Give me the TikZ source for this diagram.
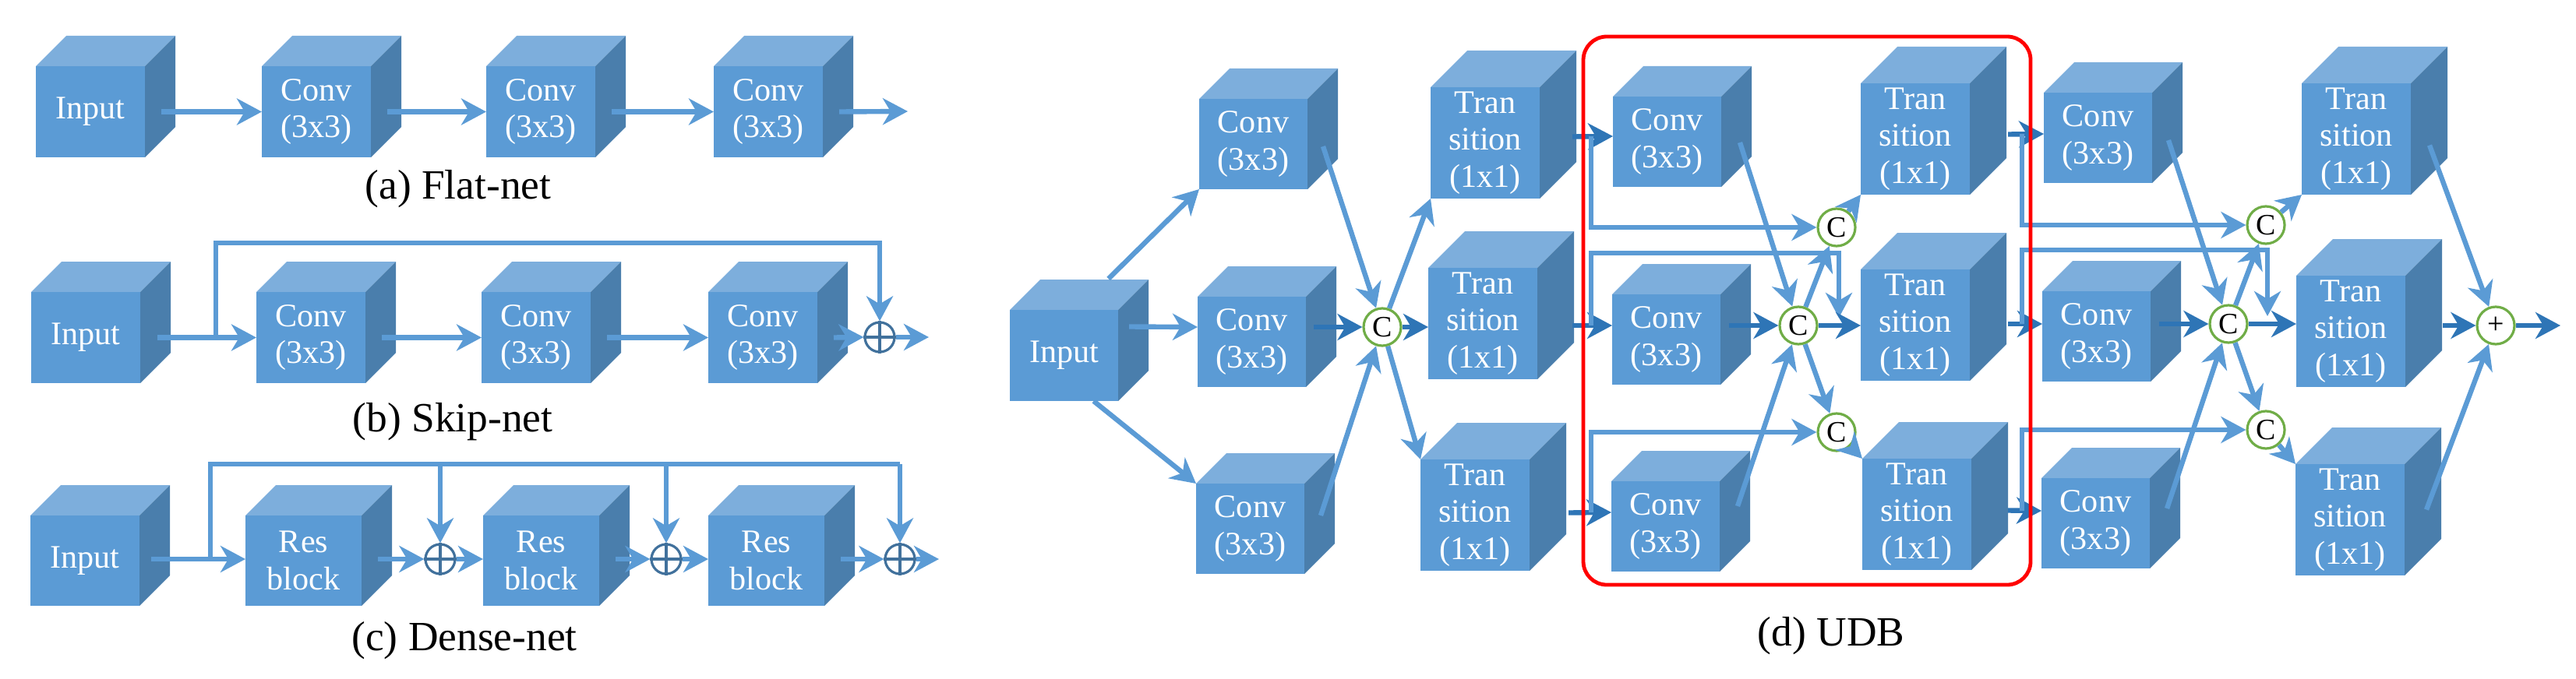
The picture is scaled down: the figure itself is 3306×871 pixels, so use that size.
\documentclass[tikz,border=0pt]{standalone}
\usepackage{fontspec}
\setmainfont{Liberation Serif}
\newfontfamily\tnr{Liberation Serif}
\usetikzlibrary{arrows.meta,calc}
\definecolor{cfront}{HTML}{5B9BD5}
\definecolor{ctop}{HTML}{7DAEDC}
\definecolor{cside}{HTML}{4A7EAC}
\definecolor{lb}{HTML}{5B9BD5}
\definecolor{db}{HTML}{2E75B6}
\definecolor{cgreen}{HTML}{70AD47}
\definecolor{oplus}{HTML}{41719C}
\tikzset{
 x=0.25mm,y=-0.25mm,
 cubefront/.style={fill=cfront,inner sep=0pt,outer sep=0pt,text=white,align=center,
   font=\tnr\fontsize{30pt}{34pt}\selectfont},
 ln/.style={draw=lb,line width=1.6mm},
 arr/.style={ln,-{Stealth[length=8mm,width=8.5mm,inset=2.5mm]}},
 darr/.style={arr,draw=db},
 cc/.style={circle,draw=cgreen,fill=white,line width=0.8mm,minimum size=12mm,inner sep=0pt,
   font=\tnr\fontsize{27pt}{27pt}\selectfont},
 op/.style={circle,draw=oplus,line width=0.8mm,minimum size=9.5mm,inner sep=0pt},
 captxt/.style={font=\tnr\fontsize{38pt}{40pt}\selectfont}
}
\newcommand\mycube[7]{%
 \fill[ctop] (#2,#3) -- ++(#6,-#6) -- ++(#4,0) -- ++(-#6,#6) -- cycle;
 \fill[cside] ({#2+#4},#3) -- ++(#6,-#6) -- ++(0,#5) -- ++(-#6,#6) -- cycle;
 \node[cubefront,minimum width={#4*0.25mm},minimum height={#5*0.25mm},anchor=north west] (#1) at (#2,#3) {#7};}
\newcommand\opl[2]{\node[op] (#1) at #2 {};
 \draw[draw=oplus,line width=0.8mm] (#1.north)--(#1.south) (#1.west)--(#1.east);}
\begin{document}
\begin{tikzpicture}
\useasboundingbox (0,0) rectangle (3306,871);
% ---------- (a) Flat-net
\mycube{ina}{46}{85}{140}{117}{39}{Input}
\mycube{ca1}{336}{85}{140}{117}{39}{Conv\\(3x3)}
\mycube{ca2}{624}{85}{140}{117}{39}{Conv\\(3x3)}
\mycube{ca3}{916}{85}{140}{117}{39}{Conv\\(3x3)}
\coordinate (outa) at (1165,143);
\draw[arr] ($(ina.east)+(21,0)$) -- (ca1.west);
\draw[arr] ($(ca1.east)+(21,0)$) -- (ca2.west);
\draw[arr] ($(ca2.east)+(21,0)$) -- (ca3.west);
\draw[arr] ($(ca3.east)+(21,0)$) -- (outa);
\node[captxt] (capa) at (588,243) {(a) Flat-net};
% ---------- (b) Skip-net
\mycube{inb}{40}{375}{140}{117}{39}{Input}
\mycube{cb1}{329}{375}{140}{117}{39}{Conv\\(3x3)}
\mycube{cb2}{618}{375}{140}{117}{39}{Conv\\(3x3)}
\mycube{cb3}{909}{375}{140}{117}{39}{Conv\\(3x3)}
\opl{ob}{(1129,433)}
\coordinate (sb) at (277,433);
\coordinate (outb) at (1192,433);
\draw[arr] ($(inb.east)+(22,0)$) -- (cb1.west);
\draw[arr] (sb) -- (277,312) -| (ob.north);
\draw[arr] ($(cb1.east)+(21,0)$) -- (cb2.west);
\draw[arr] ($(cb2.east)+(21,0)$) -- (cb3.west);
\draw[arr] ($(cb3.east)+(21,0)$) -- (ob.west);
\draw[arr] (ob.east) -- (outb);
\node[captxt] (capb) at (581,542) {(b) Skip-net};
% ---------- (c) Dense-net
\mycube{inc}{39}{662}{140}{116}{39}{Input}
\mycube{rc1}{315}{662}{149}{116}{39}{Res\\block}
\mycube{rc2}{620}{662}{149}{116}{39}{Res\\block}
\mycube{rc3}{909}{662}{149}{116}{39}{Res\\block}
\opl{o1}{(565,718)}
\opl{o2}{(855,718)}
\opl{o3}{(1155,718)}
\coordinate (sc) at (270,718);
\coordinate (tc) at (270,596);
\coordinate (outc) at (1205,718);
\draw[arr] ($(inc.east)+(15,-2)$) -- (rc1.west|-sc);
\draw[ln] (sc) -- (tc) -- (o3|-tc);
\draw[arr] (o1|-tc) -- (o1.north);
\draw[arr] (o2|-tc) -- (o2.north);
\draw[arr] (o3|-tc) -- (o3.north);
\draw[arr] ($(rc1.east|-sc)+(21,0)$) -- (o1.west);
\draw[arr] (o1.east) -- (rc2.west|-sc);
\draw[arr] ($(rc2.east|-sc)+(21,0)$) -- (o2.west);
\draw[arr] (o2.east) -- (rc3.west|-sc);
\draw[arr] ($(rc3.east|-sc)+(21,0)$) -- (o3.west);
\draw[arr] (o3.east) -- (outc);
\node[captxt] (capc) at (596,823) {(c) Dense-net};
% ---------- (d) UDB
\mycube{Input}{1296}{398}{139}{117}{39}{Input}
\mycube{cA1}{1539}{127}{139}{116}{39}{Conv\\(3x3)}
\mycube{cA2}{1537}{381}{139}{116}{39}{Conv\\(3x3)}
\mycube{cA3}{1535}{621}{139}{116}{39}{Conv\\(3x3)}
\mycube{tA1}{1836}{112}{140}{143}{47}{Tran\\sition\\(1x1)}
\mycube{tA2}{1833}{344}{140}{143}{47}{Tran\\sition\\(1x1)}
\mycube{tA3}{1823}{590}{140}{143}{47}{Tran\\sition\\(1x1)}
\mycube{cB1}{2070}{124}{139}{116}{39}{Conv\\(3x3)}
\mycube{cB2}{2069}{378}{139}{116}{39}{Conv\\(3x3)}
\mycube{cB3}{2068}{618}{139}{116}{39}{Conv\\(3x3)}
\mycube{tB1}{2388}{107}{140}{143}{47}{Tran\\sition\\(1x1)}
\mycube{tB2}{2388}{346}{140}{143}{47}{Tran\\sition\\(1x1)}
\mycube{tB3}{2390}{589}{140}{143}{47}{Tran\\sition\\(1x1)}
\mycube{cC1}{2623}{119}{139}{116}{39}{Conv\\(3x3)}
\mycube{cC2}{2621}{374}{139}{116}{39}{Conv\\(3x3)}
\mycube{cC3}{2620}{614}{139}{116}{39}{Conv\\(3x3)}
\mycube{tC1}{2954}{107}{140}{143}{47}{Tran\\sition\\(1x1)}
\mycube{tC2}{2947}{354}{140}{143}{47}{Tran\\sition\\(1x1)}
\mycube{tC3}{2946}{596}{140}{143}{47}{Tran\\sition\\(1x1)}
\node[cc] (C1) at (1774,420) {C};
\node[cc] (C2t) at (2357,292) {C};
\node[cc] (C2m) at (2308,418) {C};
\node[cc] (C2b) at (2357,555) {C};
\node[cc] (C3t) at (2908,289) {C};
\node[cc] (C3m) at (2860,416) {C};
\node[cc] (C3b) at (2908,552) {C};
\node[cc] (P) at (3203,418) {+};
\coordinate (outd) at (3286,418);
% input stage
\draw[arr] ($(Input.north)+(57,-40)$) -- (cA1.south west);
\draw[arr] ($(Input.east)+(14,-37)$) -- (cA2.west|-C1);
\draw[arr] ($(Input.south)+(38,0)$) -- (cA3.north west);
\draw[arr] ($(cA1.east)+(20,3)$) -- (C1);
\draw[darr] ($(cA2.east|-C1)+(10,0)$) -- (C1);
\draw[arr] ($(cA3.east)+(21,-17)$) -- (C1);
\draw[arr] (C1) -- (tA1.south west);
\draw[darr] (C1) -- (tA2.west|-C1);
\draw[arr] (C1) -- (tA3.north west);
% stage 1
\draw[darr] ($(tA1.east)+(42,-8)$) -- ($(cB1.west)+(0,-7)$);
\draw[darr] ($(tA2.east|-C2m)+(45,0)$) -- (cB2.west|-C2m);
\draw[darr] ($(tA3.east)+(50,-3)$) -- ($(cB3.west)+(0,-18)$);
\draw[arr] (2042,175) |- (C2t);
\draw[arr] (2042,418) -- (2042,325) -- (2360,325) -- (2360,408);
\draw[arr] (2042,658) |- (C2b);
\draw[arr] ($(cB1.east)+(24,1)$) -- (C2m);
\draw[darr] ($(cB2.east|-C2m)+(11,0)$) -- (C2m);
\draw[arr] ($(cB3.east)+(23,-26)$) -- (C2m);
\draw[arr] (C2m) -- (C2t);
\draw[arr] (C2m) -- (C2b);
\draw[darr] (C2m) -- (tB2.west|-C2m);
\draw[arr] (C2t) -- (tB1.south west);
\draw[arr] (C2b) -- (tB3.north west);
% stage 2
\draw[darr] ($(tB1.east)+(49,-6)$) -- ($(cC1.west)+(0,-5)$);
\draw[darr] ($(tB2.east|-C3m)+(49,0)$) -- (cC2.west|-C3m);
\draw[darr] ($(tB3.east)+(47,-5)$) -- ($(cC3.west)+(0,-16)$);
\draw[arr] (2595,172) |- (C3t);
\draw[arr] (2595,416) -- (2595,321) -- (2910,321) -- (2910,406);
\draw[arr] (2595,656) |- (C3b);
\draw[arr] ($(cC1.east)+(21,3)$) -- (C3m);
\draw[darr] ($(cC2.east|-C3m)+(11,0)$) -- (C3m);
\draw[arr] ($(cC3.east)+(22,-19)$) -- (C3m);
\draw[arr] (C3m) -- (C3t);
\draw[arr] (C3m) -- (C3b);
\draw[darr] (C3m) -- (tC2.west|-C3m);
\draw[arr] (C3t) -- (tC1.south west);
\draw[arr] (C3b) -- (tC3.north west);
% output
\draw[arr] ($(tC1.east)+(24,8)$) -- (P);
\draw[darr] ($(tC2.east|-P)+(48,0)$) -- (P);
\draw[arr] ($(tC3.east)+(28,-13)$) -- (P);
\draw[darr] (P) -- (outd);
\draw[red,line width=1.2mm,rounded corners=7.5mm] (2032,47) rectangle (2606,751);
\node[captxt] (capd) at (2350,817) {(d) UDB};
\end{tikzpicture}
\end{document}
